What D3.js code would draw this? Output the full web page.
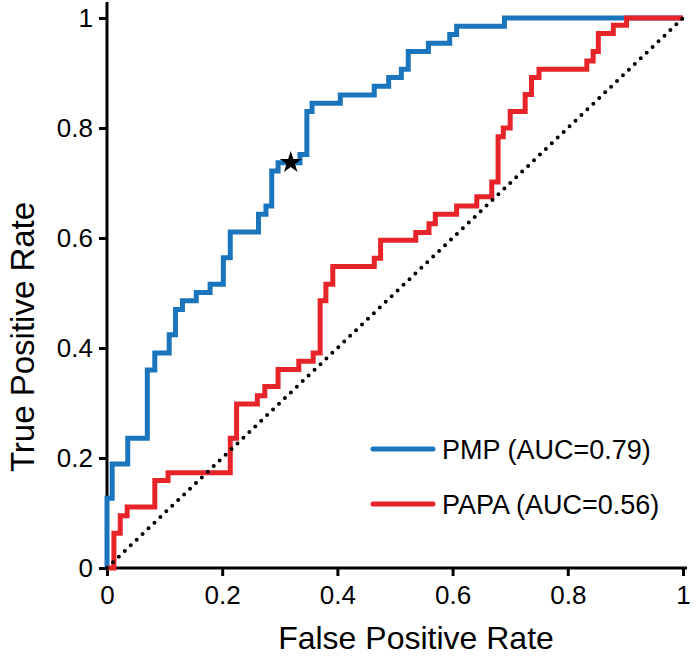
<!DOCTYPE html>
<html>
<head>
<meta charset="utf-8">
<script src="https://cdn.jsdelivr.net/npm/d3@7"></script>
<style>
  body { margin: 0; background: #fff; }
  svg { display: block; font-family: "Liberation Sans", Arial, sans-serif; }
</style>
</head>
<body>
<svg id="chart"></svg>
<script>
// ROC corner points: each point = fpr where the curve steps up, and the new tpr
const pmpFpr = [0, 0, 0.009, 0.036, 0.07, 0.083, 0.108, 0.119, 0.131, 0.155, 0.179, 0.202, 0.214, 0.263, 0.276, 0.286, 0.297, 0.335, 0.347, 0.356, 0.405, 0.464, 0.489, 0.511, 0.523, 0.558, 0.595, 0.607, 0.69, 1]
const pmpTpr = [0, 0.127, 0.189, 0.236, 0.36, 0.391, 0.424, 0.47, 0.486, 0.501, 0.516, 0.564, 0.611, 0.643, 0.658, 0.722, 0.737, 0.752, 0.83, 0.845, 0.86, 0.876, 0.892, 0.907, 0.939, 0.954, 0.97, 0.985, 1, 1]

const papaFpr = [0, 0.012, 0.023, 0.035, 0.083, 0.106, 0.214, 0.225, 0.261, 0.274, 0.297, 0.333, 0.358, 0.37, 0.38, 0.392, 0.464, 0.475, 0.536, 0.559, 0.57, 0.607, 0.642, 0.668, 0.679, 0.688, 0.7, 0.726, 0.737, 0.75, 0.833, 0.844, 0.853, 0.879, 0.902, 1]
const papaTpr = [0, 0.063, 0.095, 0.111, 0.159, 0.173, 0.236, 0.298, 0.313, 0.33, 0.361, 0.376, 0.391, 0.486, 0.516, 0.548, 0.563, 0.596, 0.61, 0.626, 0.643, 0.658, 0.675, 0.702, 0.784, 0.8, 0.83, 0.861, 0.892, 0.907, 0.922, 0.939, 0.972, 0.987, 1, 1]

const seriesNames = ["PMP (AUC=0.79)", "PAPA (AUC=0.56)"]
const seriesColors = ["#1b75bc", "#e8242b"]
const chancePoints = [[0, 0], [1, 1]]
const starPoint = [0.319, 0.737]
const tickValues = [0, 0.2, 0.4, 0.6, 0.8, 1]

const svgWidth = 700, svgHeight = 656
const margin = { top: 18, right: 17, bottom: 88, left: 107 }
const width = svgWidth - margin.left - margin.right
const height = svgHeight - margin.top - margin.bottom

const svg = d3.select("#chart")
              .attr("width", svgWidth)
              .attr("height", svgHeight)

const g = svg.append("g")
             .attr("transform", `translate(${margin.left},${margin.top})`)

const xs = d3.scaleLinear().domain([0, 1]).range([0, width])
const ys = d3.scaleLinear().domain([0, 1]).range([height, 0])

const fmt = d => (d === 0 || d === 1) ? String(d) : d.toFixed(1)

// x axis
const xAxis = g.append("g")
  .attr("transform", `translate(0,${height})`)
  .call(d3.axisBottom(xs).tickValues(tickValues).tickFormat(fmt).tickSize(8).tickPadding(10).tickSizeOuter(0))
xAxis.select(".domain").attr("d", `M0,0H${width + 4}`)
xAxis.selectAll("path, line").attr("stroke", "#000").attr("stroke-width", 3)
xAxis.selectAll("text").attr("font-size", 26).attr("fill", "#000").attr("font-family", "Liberation Sans, Arial, sans-serif")

// y axis
const yAxis = g.append("g")
  .call(d3.axisLeft(ys).tickValues(tickValues).tickFormat(fmt).tickSize(8).tickPadding(6).tickSizeOuter(0))
yAxis.select(".domain").attr("d", `M0,${height}V-16`)
yAxis.selectAll("path, line").attr("stroke", "#000").attr("stroke-width", 3)
yAxis.selectAll("text").attr("font-size", 26).attr("fill", "#000").attr("font-family", "Liberation Sans, Arial, sans-serif")

// axis titles
svg.append("text")
  .attr("x", 416).attr("y", 649)
  .attr("text-anchor", "middle")
  .attr("font-size", 32)
  .text("False Positive Rate")

svg.append("text")
  .attr("transform", "translate(34,337) rotate(-90)")
  .attr("text-anchor", "middle")
  .attr("font-size", 33)
  .text("True Positive Rate")

// ROC curves
const line = d3.line()
  .x(d => xs(d[0]))
  .y(d => ys(d[1]))
  .curve(d3.curveStepAfter)

const series = [
  d3.zip(pmpFpr, pmpTpr),
  d3.zip(papaFpr, papaTpr)
]

series.forEach((pts, i) => {
  g.append("path")
    .datum(pts)
    .attr("fill", "none")
    .attr("stroke", seriesColors[i])
    .attr("stroke-width", 5)
    .attr("stroke-linejoin", "miter")
    .attr("d", line)
})

// chance diagonal
g.append("path")
  .datum(chancePoints)
  .attr("fill", "none")
  .attr("stroke", "#000")
  .attr("stroke-width", 4)
  .attr("stroke-linecap", "round")
  .attr("stroke-dasharray", "0 8.2")
  .attr("d", d3.line().x(d => xs(d[0])).y(d => ys(d[1])))

// star marker
g.append("path")
  .attr("transform", `translate(${xs(starPoint[0])},${ys(starPoint[1])})`)
  .attr("d", d3.symbol().type(d3.symbolStar).size(150))
  .attr("fill", "#000")

// legend
const legend = svg.append("g").attr("transform", "translate(373,449)")
seriesNames.forEach((name, i) => {
  const row = legend.append("g").attr("transform", `translate(0,${i * 55})`)
  row.append("line")
    .attr("x1", 0).attr("x2", 60)
    .attr("stroke", seriesColors[i])
    .attr("stroke-width", 5)
    .attr("stroke-linecap", "round")
  row.append("text")
    .attr("x", 69)
    .attr("dy", "0.36em")
    .attr("font-size", 27)
    .text(name)
})
</script>
</body>
</html>
